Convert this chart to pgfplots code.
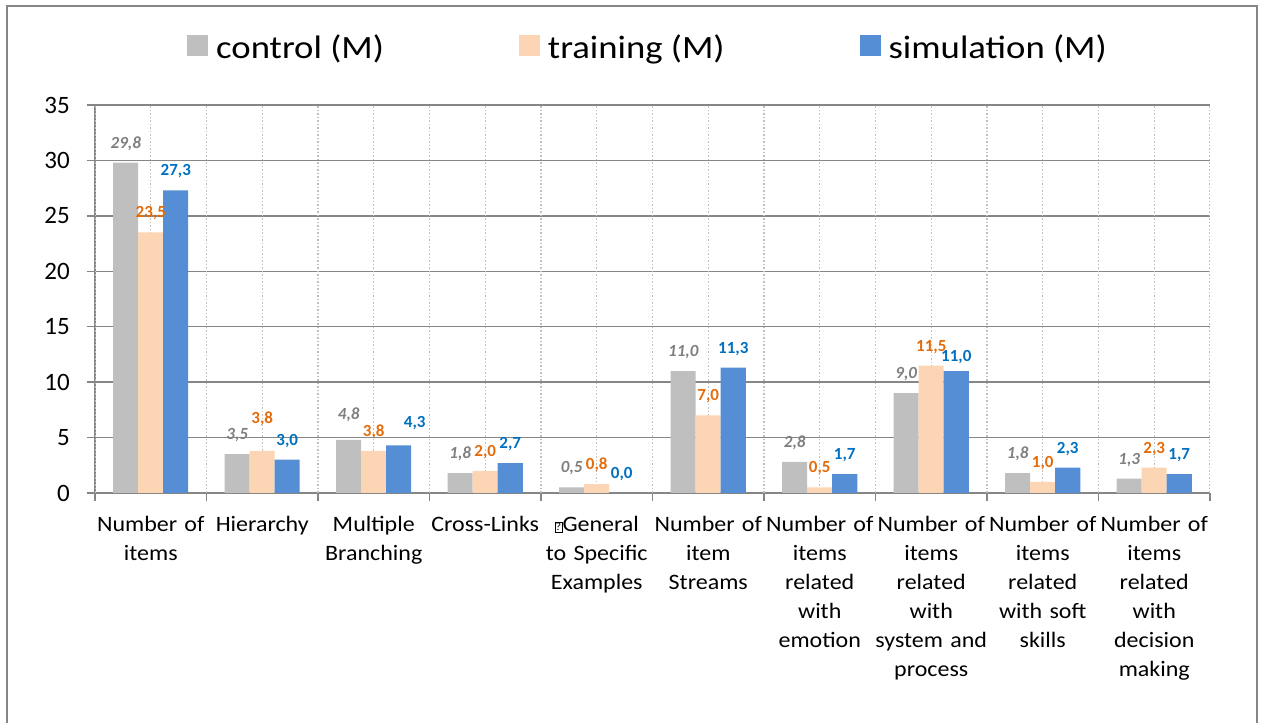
\documentclass[border=0pt]{standalone}
\usepackage{fontspec}
\setmainfont{Carlito}
\newfontfamily\legfont{Carlito}[FakeStretch=1.13]
\newfontfamily\catfont{Carlito}[FakeStretch=1.09]
\usepackage{pgfplots}
\usepackage{pgfplotstable}
\pgfplotsset{compat=1.18}
\definecolor{ctrl}{HTML}{BFBFBF}
\definecolor{train}{HTML}{FCD5B5}
\definecolor{simu}{HTML}{558ED5}
\definecolor{ctrltxt}{HTML}{7F7F7F}
\definecolor{traintxt}{HTML}{E46C0A}
\definecolor{simutxt}{HTML}{0070C0}
\definecolor{axgray}{HTML}{868686}
\definecolor{dotgray}{HTML}{BFBFBF}

\newcommand{\qbox}{{\setlength{\fboxsep}{0.5pt}\setlength{\fboxrule}{0.7pt}\raisebox{0.5pt}{\fbox{\fontsize{11}{11}\selectfont ?}}}}

% x = category, y = value, dx/dy = label nudge in pt
\pgfplotstableread{
x y dx dy
1 29.8 0 0
2 3.5 0 0
3 4.8 0 6
4 1.8 0 0
5 0.5 0 0
6 11.0 0 0
7 2.8 0 0
8 9.0 0 0
9 1.8 0 0
10 1.3 0 0
}\control
\pgfplotstableread{
x y dx dy
1 23.5 0 0
2 3.8 0 13
3 3.8 0 0
4 2.0 0 0
5 0.8 0 0
6 7.0 0 0
7 0.5 0 0
8 11.5 0 0
9 1.0 0 0
10 2.3 0 0
}\training
\pgfplotstableread{
x y dx dy
1 27.3 0 0
2 3.0 0 0
3 4.3 16 3
4 2.7 0 0
5 0.0 0 0
6 11.3 0 0
7 1.7 0 0
8 11.0 0 -5
9 2.3 0 0
10 1.7 0 0
}\simulation

\begin{document}
\begin{tikzpicture}[x=1pt,y=1pt]
\useasboundingbox (0,0) rectangle (1262,723);
\draw[axgray, line width=1.5pt] (7,-5) -- (7,717) -- (1257,717) -- (1257,-5);
\begin{axis}[
    at={(95pt,230pt)}, anchor=south west,
    scale only axis,
    width=1115pt, height=388pt,
    ybar=0pt, bar width=25pt,
    xmin=0.5, xmax=10.5,
    ymin=0, ymax=35,
    enlarge x limits=false,
    ytick={0,5,...,35},
    xtick={1,...,10},
    minor xtick={0.5,1.5,...,10.5},
    xticklabels={
      {Number of\\items},
      {Hierarchy},
      {Multiple\\Branching},
      {Cross-Links},
      {\qbox General\\to Specific\\Examples},
      {Number of\\item\\Streams},
      {Number of\\items\\related\\with\\emotion},
      {Number of\\items\\related\\with\\system and\\process},
      {Number of\\items\\related\\with soft\\skills},
      {Number of\\items\\related\\with\\decision\\making}},
    axis x line*=bottom, axis y line*=left,
    axis line style={axgray, line width=1.5pt, -},
    tick align=outside,
    major x tick style={draw=none},
    major y tick style={axgray, line width=1.5pt},
    minor x tick style={axgray, line width=1.5pt},
    major tick length=8pt, minor tick length=8pt,
    ymajorgrids,
    major grid style={axgray, line width=1.5pt},
    /pgf/number format/assume math mode=true,
    yticklabel style={font=\fontsize{25}{25}\selectfont, anchor=east, inner sep=0pt, xshift=-17pt},
    xticklabel style={font=\catfont\fontsize{22}{29}\selectfont, text width=112pt, align=center, anchor=north, inner sep=0pt, yshift=-15pt},
    legend style={at={(0.5,1)}, anchor=center, yshift=58pt, xshift=-4pt, draw=none, fill=none,
      legend columns=3, font=\legfont\fontsize{32.5}{38}\selectfont,
      nodes={inner sep=3pt},
      /tikz/every odd column/.append style={column sep=5pt},
      /tikz/every even column/.append style={column sep=132pt}},
    legend image code/.code={\fill[#1] (0pt,-9pt) rectangle (21pt,12pt);},
    nodes near coords={\pgfmathprintnumber[fixed,fixed zerofill,precision=1,use comma]{\pgfplotspointmeta}},
  ]
  \pgfplotsinvokeforeach{0.5,1,...,10.5}{
    \draw[dotgray, line width=1.2pt, dash pattern=on 1.5pt off 2pt] (axis cs:#1,0) -- (axis cs:#1,35);
  }
  \pgfplotsset{
    lbl/.style={
      visualization depends on={\thisrow{dx} \as \labdx},
      visualization depends on={\thisrow{dy} \as \labdy},
      every node near coord/.append style={font=\fontsize{17}{17}\selectfont\bfseries, anchor=south, inner sep=0pt, yshift=12pt, xshift=\labdx, yshift=\labdy, #1}}}
  \addplot[fill=ctrl, draw=none, lbl={ctrltxt, font=\fontsize{17}{17}\selectfont\bfseries\itshape}] table[x=x, y=y] {\control};
  \addlegendentry{control (M)}
  \addplot[fill=train, draw=none, lbl={traintxt}] table[x=x, y=y] {\training};
  \addlegendentry{training (M)}
  \addplot[fill=simu, draw=none, lbl={simutxt}] table[x=x, y=y] {\simulation};
  \addlegendentry{simulation (M)}
\end{axis}
\end{tikzpicture}
\end{document}
